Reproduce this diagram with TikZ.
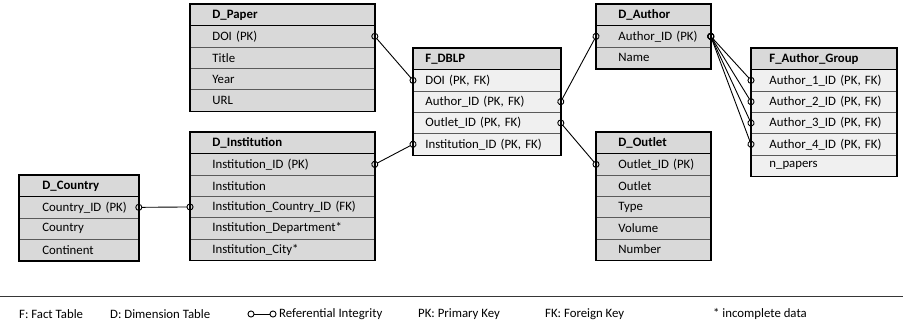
\documentclass[tikz,border=0pt]{standalone}
\usepackage{fontspec}
\setmainfont{Carlito}
\usetikzlibrary{arrows.meta}

\definecolor{dimfill}{HTML}{D9D9D9}
\definecolor{factfill}{HTML}{F0F0F0}
\definecolor{sepgray}{HTML}{5A5A5A}

\tikzset{
  tblrow/.style={draw=sepgray,line width=0.8pt,fill=dimfill,anchor=north west,
    minimum height=21.3pt,inner ysep=0pt,align=left,font=\fontsize{12.8}{14}\selectfont},
  tblhead/.style={tblrow,draw=black,font=\fontsize{12.8}{14}\selectfont\bfseries},
  tblframe/.style={draw=black,line width=1.6pt},
  refline/.style={line width=0.9pt,{Circle[open,length=7pt,width=7pt]}-{Circle[open,length=7pt,width=7pt]},
    shorten <=-3.5pt,shorten >=-3.5pt},
  legend/.style={anchor=west,inner sep=0pt,font=\fontsize{12.8}{14}\selectfont}
}

\begin{document}
\begin{tikzpicture}[x=1pt,y=-1pt]
\useasboundingbox (0,0) rectangle (903,324);

% D_Paper
\foreach \t [count=\i] in {DOI (PK),Title,Year,URL}
  \node[tblrow,inner xsep=22pt,text width=140pt] (pap\i) at (190,4+21.3*\i) {\mbox{\t}};
\node[tblhead,inner xsep=22pt,text width=140pt] (pap) at (190,4) {D\_Paper};
\draw[tblframe] (pap.north west) rectangle (pap4.south east);

% F_DBLP
\foreach \t [count=\i] in {{DOI (PK, FK)},{Author\_ID (PK, FK)},{Outlet\_ID (PK, FK)},{Institution\_ID (PK, FK)}}
  \node[tblrow,fill=factfill,inner xsep=12pt,text width=123pt] (dblp\i) at (413,48+21.3*\i) {\mbox{\t}};
\node[tblhead,inner xsep=12pt,text width=123pt] (dblp) at (413,48) {F\_DBLP};
\draw[tblframe] (dblp.north west) rectangle (dblp4.south east);

% D_Institution
\foreach \t [count=\i] in {Institution\_ID (PK),Institution,Institution\_Country\_ID (FK),Institution\_Department*,Institution\_City*}
  \node[tblrow,inner xsep=22pt,text width=140pt] (inst\i) at (190,132+21.3*\i) {\mbox{\t}};
\node[tblhead,inner xsep=22pt,text width=140pt] (inst) at (190,132) {D\_Institution};
\draw[tblframe] (inst.north west) rectangle (inst5.south east);

% D_Country
\foreach \t [count=\i] in {Country\_ID (PK),Country,Continent}
  \node[tblrow,inner xsep=23pt,text width=73pt] (ctry\i) at (19,175+21.3*\i) {\mbox{\t}};
\node[tblhead,inner xsep=23pt,text width=73pt] (ctry) at (19,175) {D\_Country};
\draw[tblframe] (ctry.north west) rectangle (ctry3.south east);

% D_Author
\foreach \t [count=\i] in {Author\_ID (PK),Name}
  \node[tblrow,inner xsep=22pt,text width=70pt] (auth\i) at (596,4+21.3*\i) {\mbox{\t}};
\node[tblhead,inner xsep=22pt,text width=70pt] (auth) at (596,4) {D\_Author};
\draw[tblframe] (auth.north west) rectangle (auth2.south east);

% D_Outlet
\foreach \t [count=\i] in {Outlet\_ID (PK),Outlet,Type,Volume,Number}
  \node[tblrow,inner xsep=22pt,text width=70pt] (outl\i) at (596,132+21.3*\i) {\mbox{\t}};
\node[tblhead,inner xsep=22pt,text width=70pt] (outl) at (596,132) {D\_Outlet};
\draw[tblframe] (outl.north west) rectangle (outl5.south east);

% F_Author_Group
\foreach \t [count=\i] in {{Author\_1\_ID (PK, FK)},{Author\_2\_ID (PK, FK)},{Author\_3\_ID (PK, FK)},{Author\_4\_ID (PK, FK)},n\_papers}
  \node[tblrow,fill=factfill,inner xsep=18pt,text width=109pt] (grp\i) at (751,48+21.3*\i) {\mbox{\t}};
\node[tblhead,inner xsep=18pt,text width=109pt] (grp) at (751,48) {F\_Author\_Group};
\draw[tblframe] (grp.north west) rectangle (grp5.south east);

% referential integrity
\draw[refline] (pap1.east) -- (dblp1.west);
\draw[refline] (inst1.east) -- (dblp4.west);
\draw[refline] (ctry1.east) -- (inst3.west);
\draw[refline] (dblp2.east) -- (auth1.west);
\draw[refline] (dblp3.east) -- (outl1.west);
\foreach \i in {1,...,4}
  \draw[refline] (auth1.east) -- (grp\i.west);

% legend
\coordinate (rulel) at (0,296);
\coordinate (ruler) at (903,296);
\draw[line width=0.8pt,sepgray!60!black] (rulel) -- (ruler);
\node[legend] (lf) at (19,314) {F: Fact Table};
\node[legend] (ld) at (110,314) {D: Dimension Table};
\coordinate (lga) at (251,314);
\coordinate (lgb) at (273,314);
\draw[refline] (lga) -- (lgb);
\node[legend] (lr) at (279,314) {Referential Integrity};
\node[legend] (lpk) at (418,314) {PK: Primary Key};
\node[legend] (lfk) at (545,314) {FK: Foreign Key};
\node[legend] (lin) at (713,314) {* incomplete data};
\end{tikzpicture}
\end{document}
